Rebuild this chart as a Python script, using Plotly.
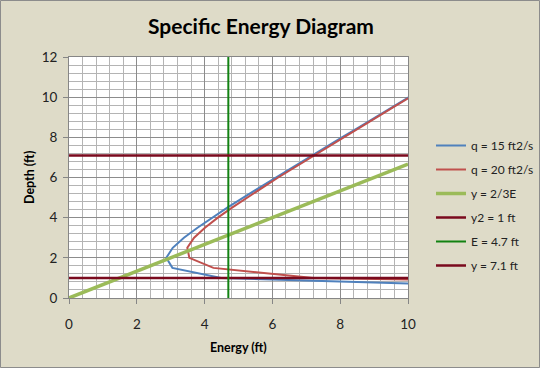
import plotly.graph_objects as go

# ---- data ----
depth = [0.5, 1, 1.5, 2, 2.5, 3, 3.5, 4, 4.5, 5, 5.5, 6, 6.5, 7, 7.5, 8, 8.5, 9, 9.5, 10]
energy_q15 = [14.48, 4.49, 3.05, 2.87, 3.06, 3.39, 3.79, 4.22, 4.67, 5.14, 5.62, 6.10,
              6.58, 7.07, 7.56, 8.05, 8.55, 9.04, 9.54, 10.03]
energy_q20 = [25.34, 7.21, 4.26, 3.55, 3.49, 3.69, 4.01, 4.39, 4.81, 5.25, 5.71, 6.17,
              6.65, 7.13, 7.61, 8.10, 8.59, 9.08, 9.57, 10.06]
crit_E = [0, 1, 2, 3, 4, 5, 6, 7, 8, 9, 10]
crit_y = [0, 0.67, 1.33, 2.0, 2.67, 3.33, 4.0, 4.67, 5.33, 6.0, 6.67]
y2_E = [0, 10]
y2_y = [1, 1]
E47_E = [4.7, 4.7]
E47_y = [0, 12]
y71_E = [0, 10]
y71_y = [7.1, 7.1]
x_ticks = [0, 2, 4, 6, 8, 10]
y_ticks = [0, 2, 4, 6, 8, 10, 12]

FONT = "Lato"
W, H = 540, 368
L, R, T, B = 69, 132, 57, 70

fig = go.Figure()
def add(x, y, name, color, width):
    fig.add_trace(go.Scatter(x=x, y=y, mode="lines", name=name, legendgroup=name,
                             line=dict(color=color, width=width)))

add(energy_q15, depth, "q = 15 ft2/s", "#4F81BD", 2)
add(energy_q20, depth, "q = 20 ft2/s", "#C0504D", 2)
add(crit_E, crit_y, "y = 2/3E", "#9BBB59", 3.5)
add(y2_E, y2_y, "y2 = 1 ft", "#7A0A1E", 2.5)
add(E47_E, E47_y, "E = 4.7 ft", "#128212", 2)
add(y71_E, y71_y, "y = 7.1 ft", "#7A0A1E", 2.5)

axis_common = dict(
    showline=True, linecolor="#868686", linewidth=1, mirror=True,
    showgrid=True, gridcolor="#8C8C8C", gridwidth=1,
    ticks="outside", ticklen=5, tickcolor="#868686",
    tickfont=dict(family=FONT, size=13.5, color="#222222"),
    zeroline=False, automargin=False,
    minor=dict(dtick=0.4, showgrid=True, gridcolor="#B4B4B4", gridwidth=1),
)
fig.update_xaxes(range=[0, 10], tickvals=x_ticks, ticklabelstandoff=9, **axis_common)
fig.update_yaxes(range=[0, 12], tickvals=y_ticks, ticklabelstandoff=3, **axis_common)

pw, ph = W - L - R, H - T - B
def px(xp): return (xp - L) / pw
def py(yp): return (H - B - yp) / ph

fig.update_layout(
    width=W, height=H,
    margin=dict(l=L, r=R, t=T, b=B, autoexpand=False),
    paper_bgcolor="#DEDBC8", plot_bgcolor="white",
    title=dict(text="<b>Specific Energy Diagram</b>", x=261 / W, xanchor="center",
               y=1 - 27 / H, yanchor="middle", yref="container",
               font=dict(family=FONT, size=21, color="black")),
    legend=dict(x=px(431), xanchor="left", y=py(131), yanchor="top",
                font=dict(family=FONT, size=12, color="#222222"),
                tracegroupgap=5, bgcolor="rgba(0,0,0,0)", itemwidth=30),
    annotations=[
        dict(text="<b>Energy (ft)</b>", x=px(238), y=py(347), xref="paper", yref="paper",
             showarrow=False, xanchor="center", yanchor="middle",
             font=dict(family=FONT, size=12.5, color="black")),
        dict(text="<b>Depth (ft)</b>", x=px(29), y=py(178), xref="paper", yref="paper",
             showarrow=False, xanchor="center", yanchor="middle", textangle=-90,
             font=dict(family=FONT, size=12.5, color="black")),
    ],
    shapes=[dict(type="rect", xref="paper", yref="paper",
                 x0=px(0.5), x1=px(539.5), y0=py(367.5), y1=py(0.5),
                 line=dict(color="#8C8C8C", width=1), layer="below")],
)

fig.write_html("out.html", config={"displayModeBar": False},
               post_script="document.body.style.margin='0px';")
